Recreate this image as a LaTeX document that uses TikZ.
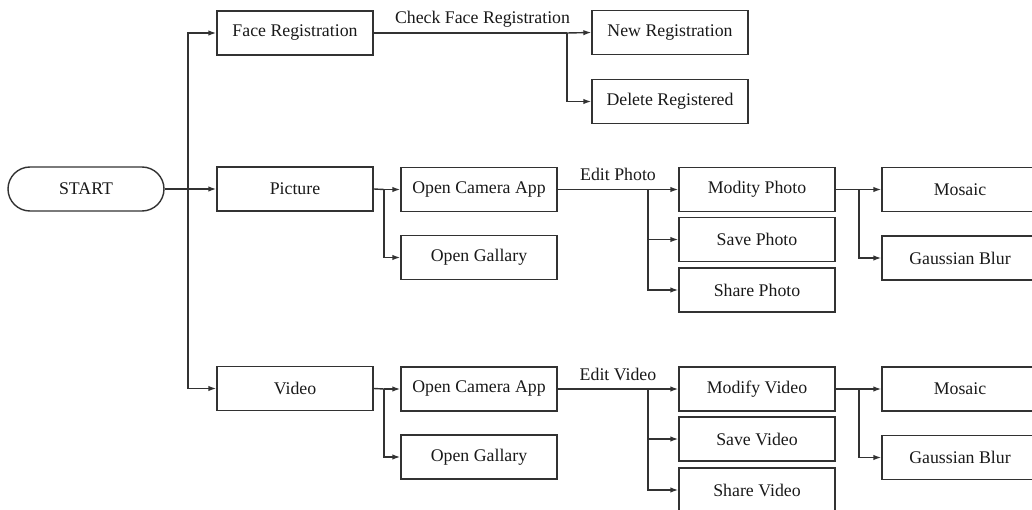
\documentclass[tikz,border=0pt]{standalone}
\usepackage{fontspec}
\setmainfont{Liberation Serif}
\usetikzlibrary{arrows.meta,calc}
\definecolor{ln}{RGB}{50,50,50}
\definecolor{tx}{RGB}{25,25,25}
\tikzset{
  box/.style={draw=ln, line width=1.4pt, minimum width=156pt, minimum height=44pt, inner sep=0pt, text=tx, font=\fontsize{17.8}{20}\selectfont},
  pill/.style={box, rounded corners=22pt},
  conn/.style={draw=ln, line width=1.4pt},
  arr/.style={conn, -{Latex[length=8pt,width=5.5pt]}},
  lbl/.style={text=tx, font=\fontsize{17.8}{20}\selectfont, inner sep=0pt, anchor=base, yshift=9pt}
}
\begin{document}
\begin{tikzpicture}[x=1pt,y=-1pt]
\useasboundingbox (0,0) rectangle (1032,510);
\clip (0,0) rectangle (1032,510);
% nodes
\node[pill] (start) at (86,189) {START};
\node[box] (face) at (295,33) {Face Registration};
\node[box] (picture) at (295,189) {Picture};
\node[box] (video) at (295,388.5) {Video};
\node[box] (newreg) at (670,32.5) {New Registration};
\node[box] (delreg) at (670,101.5) {Delete Registered};
\node[box] (ocam1) at (479,189.5) {Open Camera App};
\node[box] (ogal1) at (479,257.5) {Open Gallary};
\node[box] (modp) at (757,189.5) {Modity Photo};
\node[box] (savep) at (757,239.5) {Save Photo};
\node[box] (sharep) at (757,290) {Share Photo};
\node[box] (mos1) at (960,189.5) {Mosaic};
\node[box] (gb1) at (960,258) {Gaussian Blur};
\node[box] (ocam2) at (479,389) {Open Camera App};
\node[box] (ogal2) at (479,457) {Open Gallary};
\node[box] (modv) at (757,389) {Modify Video};
\node[box] (savev) at (757,439) {Save Video};
\node[box] (sharev) at (757,490) {Share Video};
\node[box] (mos2) at (960,389) {Mosaic};
\node[box] (gb2) at (960,457.5) {Gaussian Blur};
% branch points
\coordinate (trunk) at (188,189);
\coordinate (bface) at (567,33);
\coordinate (bpic) at (384,189.5);
\coordinate (bedp) at (648,189.5);
\coordinate (bmodp) at (859,189.5);
\coordinate (bvid) at (384,389);
\coordinate (bedv) at (648,389);
\coordinate (bmodv) at (859,389);
% start trunk
\draw[arr] (start.east) -- (picture.west);
\draw[arr] (trunk) |- (face.west);
\draw[arr] (trunk) |- (video.west);
% face registration
\draw[conn] (face.east) -- (bface);
\draw[arr] (bface) -- (newreg.west);
\draw[arr] (bface) |- (delreg.west);
\node[lbl] (lface) at ($(face.east)!0.5!(newreg.west)$) {Check Face Registration};
% picture row
\draw[conn] (picture.east) -- (bpic);
\draw[arr] (bpic) -- (ocam1.west);
\draw[arr] (bpic) |- (ogal1.west);
\draw[conn] (ocam1.east) -- (bedp);
\draw[arr] (bedp) -- (modp.west);
\draw[arr] (bedp) |- (savep.west);
\draw[arr] (bedp) |- (sharep.west);
\node[lbl] (lphoto) at ($(ocam1.east)!0.5!(modp.west)$) {Edit Photo};
\draw[conn] (modp.east) -- (bmodp);
\draw[arr] (bmodp) -- (mos1.west);
\draw[arr] (bmodp) |- (gb1.west);
% video row
\draw[conn] (video.east) -- (bvid);
\draw[arr] (bvid) -- (ocam2.west);
\draw[arr] (bvid) |- (ogal2.west);
\draw[conn] (ocam2.east) -- (bedv);
\draw[arr] (bedv) -- (modv.west);
\draw[arr] (bedv) |- (savev.west);
\draw[arr] (bedv) |- (sharev.west);
\node[lbl] (lvideo) at ($(ocam2.east)!0.5!(modv.west)$) {Edit Video};
\draw[conn] (modv.east) -- (bmodv);
\draw[arr] (bmodv) -- (mos2.west);
\draw[arr] (bmodv) |- (gb2.west);
\end{tikzpicture}
\end{document}
